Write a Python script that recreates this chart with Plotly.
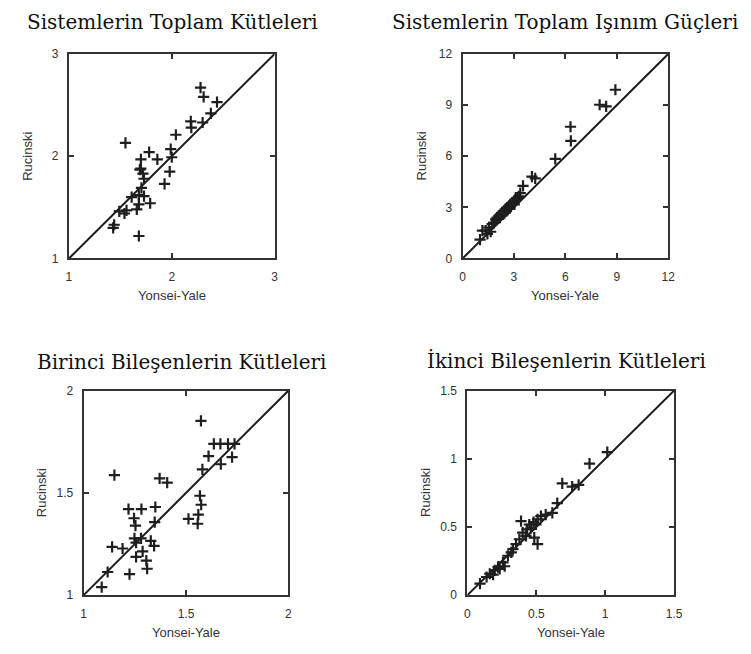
import plotly.graph_objects as go

# ---------------- data ----------------
titles = ["Sistemlerin Toplam Kütleleri", "Sistemlerin Toplam Işınım Güçleri",
          "Birinci Bileşenlerin Kütleleri", "İkinci Bileşenlerin Kütleleri"]
x_label = "Yonsei-Yale"
y_label = "Rucinski"

x1 = [2.28, 2.31, 2.44, 2.38, 2.185, 2.30, 2.19, 2.04, 1.55, 1.78, 1.99, 1.70, 1.86, 2.00,
      1.98, 1.70, 1.73, 1.93, 1.705, 1.68, 1.73, 1.79, 1.68, 1.66, 1.61, 1.49, 1.54, 1.56,
      1.44, 1.43, 1.68, 1.69, 1.72]
y1 = [2.67, 2.58, 2.53, 2.42, 2.34, 2.33, 2.28, 2.21, 2.13, 2.04, 2.07, 1.97, 1.97, 1.99,
      1.85, 1.88, 1.78, 1.73, 1.69, 1.62, 1.61, 1.54, 1.53, 1.48, 1.60, 1.46, 1.44, 1.47,
      1.33, 1.30, 1.22, 1.87, 1.83]

x2 = [8.92, 8.0, 8.38, 6.30, 6.32, 5.41, 4.05, 4.24, 3.53, 3.37, 3.18, 2.99, 2.79, 2.60,
      2.41, 2.22, 2.02, 1.73, 1.54, 1.35, 1.45, 1.16, 1.02, 2.89, 3.08, 2.70, 2.50, 2.31,
      2.12, 1.93, 1.83, 3.28, 3.02, 2.76, 2.56, 2.37, 2.18, 1.64]
y2 = [9.90, 9.02, 8.92, 7.73, 6.90, 5.85, 4.80, 4.70, 4.26, 3.84, 3.55, 3.36, 3.17, 2.98,
      2.78, 2.59, 2.40, 2.02, 1.82, 1.63, 1.44, 1.63, 1.11, 3.26, 3.45, 3.07, 2.88, 2.69,
      2.50, 2.30, 2.11, 3.65, 3.17, 2.96, 2.78, 2.59, 2.40, 1.57]

x3 = [1.573, 1.636, 1.668, 1.705, 1.737, 1.61, 1.725, 1.67, 1.58, 1.15, 1.371, 1.408, 1.568,
      1.574, 1.219, 1.282, 1.35, 1.246, 1.253, 1.347, 1.512, 1.56, 1.557, 1.248, 1.28, 1.256,
      1.328, 1.344, 1.139, 1.19, 1.288, 1.256, 1.306, 1.31, 1.224, 1.117, 1.088]
y3 = [1.852, 1.74, 1.74, 1.74, 1.74, 1.68, 1.675, 1.64, 1.615, 1.587, 1.571, 1.55, 1.486,
      1.442, 1.421, 1.421, 1.431, 1.376, 1.34, 1.357, 1.373, 1.394, 1.349, 1.278, 1.278, 1.257,
      1.265, 1.241, 1.236, 1.228, 1.214, 1.187, 1.169, 1.129, 1.103, 1.113, 1.039]

x4 = [1.015, 0.886, 0.688, 0.76, 0.807, 0.652, 0.616, 0.568, 0.533, 0.509, 0.48, 0.449, 0.389,
      0.432, 0.401, 0.509, 0.485, 0.377, 0.353, 0.33, 0.294, 0.258, 0.222, 0.198, 0.162, 0.139,
      0.27, 0.461, 0.497, 0.425, 0.318, 0.186, 0.091, 0.234]
y4 = [1.049, 0.965, 0.82, 0.796, 0.808, 0.675, 0.603, 0.59, 0.579, 0.555, 0.535, 0.518, 0.543,
      0.482, 0.458, 0.374, 0.422, 0.41, 0.374, 0.338, 0.289, 0.241, 0.205, 0.181, 0.157, 0.133,
      0.212, 0.494, 0.518, 0.434, 0.313, 0.15, 0.084, 0.193]

ranges = [[1, 3], [0, 12], [1, 2], [0, 1.5]]
dticks = [1, 3, 0.5, 0.5]

xs = [x1, x2, x3, x4]
ys = [y1, y2, y3, y4]

# ---------------- layout geometry (pixels) ----------------
W, H = 751, 654
boxes = [(67, 276, 48, 257), (467, 676, 48, 257), (82, 290, 392, 601), (472, 682, 392, 601)]
title_pos = [(172, 15), (571, 15), (181, 363), (573, 362)]

fig = go.Figure()
annotations = []
layout_axes = {}
for i in range(4):
    sfx = "" if i == 0 else str(i + 1)
    xref = "x" + sfx
    yref = "y" + sfx
    fig.add_trace(go.Scatter(x=ranges[i], y=ranges[i], mode="lines",
                             line=dict(color="#1a1a1a", width=2),
                             xaxis=xref, yaxis=yref, showlegend=False, hoverinfo="skip"))
    fig.add_trace(go.Scatter(x=xs[i], y=ys[i], mode="markers",
                             marker=dict(symbol="cross-thin-open", size=8, color="#1e1e1e",
                                         line=dict(color="#1e1e1e", width=2.2)),
                             xaxis=xref, yaxis=yref, showlegend=False))
    l, r, t, b = boxes[i]
    common = dict(range=ranges[i], dtick=dticks[i], tick0=0, showgrid=False, zeroline=False,
                  showline=True, linecolor="#333333", linewidth=2, mirror="ticks",
                  ticks="inside", ticklen=5, tickwidth=1.5, tickcolor="#333333",
                  tickfont=dict(family="Liberation Sans, Arial", size=12, color="#333333"),
                  fixedrange=True)
    layout_axes["xaxis" + sfx] = dict(common, domain=[l / W, r / W], anchor=yref,
                                      ticklabelstandoff=6)
    layout_axes["yaxis" + sfx] = dict(common, domain=[1 - b / H, 1 - t / H], anchor=xref,
                                      ticklabelstandoff=6)
    tx, ty = title_pos[i]
    annotations.append(dict(text=titles[i], x=tx / W, y=1 - ty / H, xref="paper", yref="paper",
                            showarrow=False, xanchor="center", yanchor="middle",
                            font=dict(family="DejaVu Serif", size=20, color="#111111")))
    annotations.append(dict(text=x_label, x=(l + r) / 2 / W, y=1 - (b + 38) / H,
                            xref="paper", yref="paper", showarrow=False,
                            xanchor="center", yanchor="middle",
                            font=dict(family="Liberation Sans, Arial", size=13, color="#333333")))
    annotations.append(dict(text=y_label, x=(l - 42) / W, y=1 - (t + b) / 2 / H,
                            xref="paper", yref="paper", showarrow=False, textangle=-90,
                            xanchor="center", yanchor="middle",
                            font=dict(family="Liberation Sans, Arial", size=13, color="#333333")))

fig.update_layout(width=W, height=H, margin=dict(l=0, r=0, t=0, b=0),
                  paper_bgcolor="white", plot_bgcolor="white",
                  annotations=annotations, **layout_axes)

fig.write_html("out.html")
